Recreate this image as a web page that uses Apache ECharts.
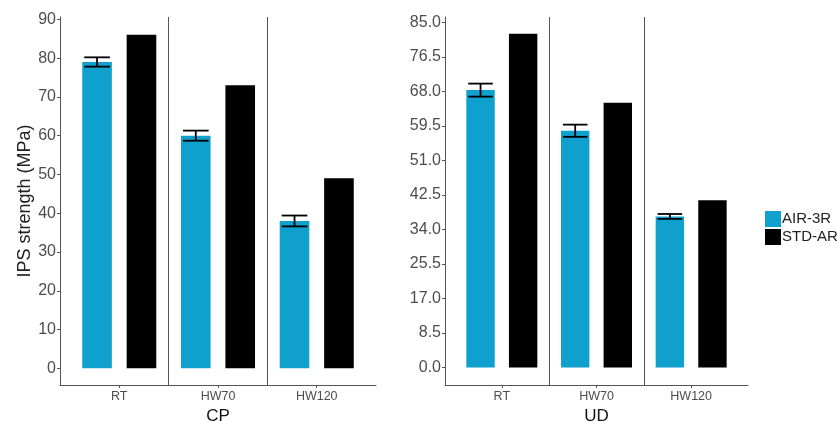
<!DOCTYPE html>
<html><head><meta charset="utf-8">
<script src="https://cdn.jsdelivr.net/npm/echarts@6/dist/echarts.min.js"></script>
<style>html,body{margin:0;padding:0;background:#fff}#c{width:840px;height:421px}</style>
</head><body><div id="c"></div>
<script>
const categories = ['RT', 'HW70', 'HW120'];
const seriesNames = ['AIR-3R', 'STD-AR'];
const cpAir = [79, 60, 38];
const cpAirErr = [1.2, 1.3, 1.4];
const cpStd = [86, 73, 49];
const udAir = [68.3, 58.3, 37.2];
const udAirErr = [1.6, 1.5, 0.6];
const udStd = [82.2, 65.2, 41.2];
const cpTicks = [0, 10, 20, 30, 40, 50, 60, 70, 80, 90];
const udTicks = [0, 8.5, 17, 25.5, 34, 42.5, 51, 59.5, 68, 76.5, 85];
const separators = [1.5, 2.5];

const FONT = 'Liberation Sans, Arial, sans-serif';
const BLUE = '#10a0ce';
const AXC = '#555';
const LBL = '#4d4d4d';

function frameAxes(gi, yMin, yMax, ticks, fmt, yName) {
  return {
    x: {gridIndex: gi, type: 'value', min: 0.4, max: 3.6, position: 'bottom',
        axisLine: {show: true, onZero: false, lineStyle: {color: AXC, width: 1}},
        axisTick: {show: false}, axisLabel: {show: false}, splitLine: {show: false}},
    y: {gridIndex: gi, type: 'value', min: yMin, max: yMax,
        name: yName, nameLocation: 'middle', nameGap: 26,
        nameTextStyle: {fontFamily: FONT, fontSize: 18, color: '#222'},
        axisLine: {show: true, lineStyle: {color: AXC, width: 1}},
        axisTick: {show: true, length: 3, customValues: ticks, lineStyle: {color: AXC}},
        axisLabel: {show: true, customValues: ticks, margin: 4, fontFamily: FONT, fontSize: 16, color: LBL,
                    formatter: fmt},
        splitLine: {show: false}}
  };
}
function barAxes(gi, yMin, yMax, name) {
  return {
    x: {gridIndex: gi, type: 'category', data: categories, position: 'bottom',
        name: name, nameLocation: 'middle', nameGap: 19,
        nameTextStyle: {fontFamily: FONT, fontSize: 17, color: '#111'},
        axisLine: {show: false, onZero: false},
        axisTick: {show: true, alignWithLabel: true, length: 3, lineStyle: {color: AXC}},
        axisLabel: {margin: 5, fontFamily: FONT, fontSize: 12.5, color: LBL},
        splitLine: {show: false}},
    y: {gridIndex: gi, type: 'value', min: yMin, max: yMax, show: false, splitLine: {show: false}}
  };
}

const fL = frameAxes(0, -4.3, 90.6, cpTicks, v => String(v), 'IPS strength (MPa)');
const bL = barAxes(1, -4.3, 90.6, 'CP');
const fR = frameAxes(2, -4.3, 86.3, udTicks, v => v.toFixed(1), '');
const bR = barAxes(3, -4.3, 86.3, 'UD');

function errSeries(xi, yi, vals, errs) {
  return {
    type: 'custom', xAxisIndex: xi, yAxisIndex: yi, z: 5, silent: true,
    data: vals.map((v, i) => [i, v, errs[i]]),
    renderItem: function (params, api) {
      const i = api.value(0), v = api.value(1), e = api.value(2);
      const bw = api.size([1, 0])[0];
      const c = api.coord([i, v]);
      const x = c[0] - 0.225 * bw;
      const top = api.coord([i, v + e])[1];
      const bot = api.coord([i, v - e])[1];
      const hw = 0.13 * bw;
      const st = {stroke: '#000', lineWidth: 1.8};
      return {type: 'group', children: [
        {type: 'line', shape: {x1: x, y1: top, x2: x, y2: bot}, style: st},
        {type: 'line', shape: {x1: x - hw, y1: top, x2: x + hw, y2: top}, style: st},
        {type: 'line', shape: {x1: x - hw, y1: bot, x2: x + hw, y2: bot}, style: st}
      ]};
    }
  };
}
function sepSeries(xi, yi) {
  return {
    type: 'scatter', xAxisIndex: xi, yAxisIndex: yi, data: [], silent: true,
    markLine: {silent: true, symbol: 'none', label: {show: false},
      lineStyle: {color: AXC, width: 1, type: 'solid'},
      data: separators.map(s => ({xAxis: s}))}
  };
}
function barSeries(name, xi, yi, vals, color) {
  return {name: name, type: 'bar', xAxisIndex: xi, yAxisIndex: yi, data: vals,
    barWidth: '30%', barGap: '50%', itemStyle: {color: color}, z: 3};
}

const option = {
  animation: false,
  backgroundColor: '#fff',
  grid: [
    {left: 60, top: 17, width: 316, height: 368, outerBoundsMode: 'none', containLabel: false},
    {left: 69.9, top: 17, width: 296.2, height: 368, outerBoundsMode: 'none', containLabel: false},
    {left: 445, top: 17, width: 303, height: 368, outerBoundsMode: 'none', containLabel: false},
    {left: 454.5, top: 17, width: 284, height: 368, outerBoundsMode: 'none', containLabel: false}
  ],
  xAxis: [fL.x, bL.x, fR.x, bR.x],
  yAxis: [fL.y, bL.y, fR.y, bR.y],
  legend: {
    orient: 'vertical', left: 760, top: 206, itemWidth: 16, itemHeight: 16, itemGap: 2,
    icon: 'rect', data: seriesNames,
    textStyle: {fontFamily: FONT, fontSize: 15, color: '#222', padding: [0, 0, 0, -4]}
  },
  series: [
    sepSeries(0, 0),
    sepSeries(2, 2),
    barSeries(seriesNames[0], 1, 1, cpAir, BLUE),
    barSeries(seriesNames[1], 1, 1, cpStd, '#000'),
    barSeries(seriesNames[0], 3, 3, udAir, BLUE),
    barSeries(seriesNames[1], 3, 3, udStd, '#000'),
    errSeries(1, 1, cpAir, cpAirErr),
    errSeries(3, 3, udAir, udAirErr)
  ]
};
const chart = echarts.init(document.getElementById('c'), null, {renderer: 'canvas'});
chart.setOption(option);
</script></body></html>
